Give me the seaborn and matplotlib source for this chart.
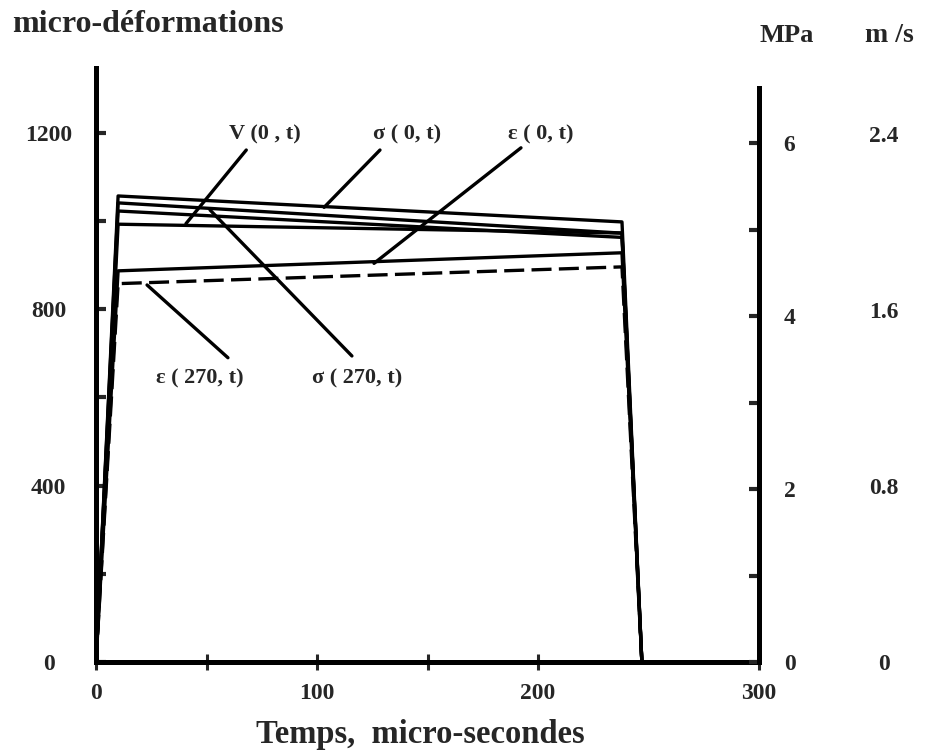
import matplotlib
matplotlib.use("Agg")
import matplotlib.pyplot as plt
import seaborn as sns

# temps (micro-secondes), common to every trace
t_us = [0, 10, 238, 247]

# déformations (micro-déformations)
eps_0 = [0, 887, 928, 0]
eps_270 = [0, 858, 896, 0]
# contraintes (MPa)
sig_0 = [0, 5.39, 5.09, 0]
sig_270 = [0, 5.31, 4.96, 0]
# vitesses (m/s) - the second one has no label in the figure
vit_0 = [0, 1.99, 1.95, 0]
vit_x = [0, 2.05, 1.93, 0]

left_ticks = [0, 400, 800, 1200]
mpa_ticks = [0, 2, 4, 6]
ms_ticks = [0, 0.8, 1.6, 2.4]
ms_labels = ["0", "0.8", "1.6", "2.4"]
x_ticks = [0, 100, 200, 300]

sns.set_style("white")
plt.rcParams["font.family"] = ["Liberation Serif", "DejaVu Serif"]
plt.rcParams["font.weight"] = "bold"

W, H = 927, 751
fig = plt.figure(figsize=(W / 100, H / 100), dpi=100)
ax = fig.add_axes([96 / W, 1 - 662 / H, (759 - 96) / W, (662 - 68) / H])
ax2 = ax.twinx()
ax3 = ax.twinx()

lw = 2.4
sns.lineplot(x=t_us, y=eps_0, ax=ax, color="black", lw=lw)
sns.lineplot(x=t_us, y=eps_270, ax=ax, color="black", lw=lw, linestyle=(0, (6, 2.2)))
sns.lineplot(x=t_us, y=sig_0, ax=ax2, color="black", lw=lw)
sns.lineplot(x=t_us, y=sig_270, ax=ax2, color="black", lw=lw)
sns.lineplot(x=t_us, y=vit_0, ax=ax3, color="black", lw=lw)
sns.lineplot(x=t_us, y=vit_x, ax=ax3, color="black", lw=lw)

ax.set_xlim(0, 300)
ax.set_ylim(0, 1347)
ax2.set_ylim(0, 6.87)
ax3.set_ylim(0, 2.70)

# spines
for s in ["top", "right"]:
    ax.spines[s].set_visible(False)
for s in ["top", "left", "bottom"]:
    ax2.spines[s].set_visible(False)
    ax3.spines[s].set_visible(False)
ax3.spines["right"].set_visible(False)
for s in ["left", "bottom"]:
    ax.spines[s].set_linewidth(3.6)
    ax.spines[s].set_color("black")
ax2.spines["right"].set_linewidth(3.6)
ax2.spines["right"].set_color("black")
ax2.spines["right"].set_bounds(0, 6.64)

tick_font = dict(fontsize=17, fontweight="bold")

# left axis
ax.set_yticks(left_ticks)
ax.set_yticks([200, 600, 1000], minor=True)
ax.set_yticklabels([str(v) for v in left_ticks], ha="center", **tick_font)
ax.tick_params(axis="y", which="both", direction="in", length=7, width=3, pad=34, left=True)

# bottom axis
ax.set_xticks(x_ticks)
ax.set_xticks([50, 150], minor=True)
ax.set_xticklabels([str(v) for v in x_ticks], **tick_font)
ax.tick_params(axis="x", which="both", direction="inout", length=12, width=2.2, pad=9, bottom=True)

# MPa axis
ax2.set_yticks(mpa_ticks)
ax2.set_yticks([1, 3, 5], minor=True)
ax2.set_yticklabels([str(v) for v in mpa_ticks], ha="center", **tick_font)
ax2.tick_params(axis="y", which="both", direction="in", length=7, width=3, pad=22, right=True)

# m/s axis (labels only)
ax3.set_yticks(ms_ticks)
ax3.set_yticklabels(ms_labels, ha="center", **tick_font)
ax3.tick_params(axis="y", length=0, pad=90)

for a in (ax, ax2, ax3):
    a.set_xlabel("")
    a.set_ylabel("")

# labels of the traces with their leader lines
leaders = [
    ("V (0 , t)", (76.5, 1196), (68, 1161), (40.7, 994)),
    ("σ ( 0, t)", (140.7, 1196), (128.5, 1161), (103.2, 1031)),
    ("ε ( 0, t)", (201.4, 1196), (192.3, 1166), (125.8, 904)),
    ("ε ( 270, t)", (47.1, 644), (59.7, 690), (23.1, 855)),
    ("σ ( 270, t)", (118.1, 644), (115.8, 694), (51.6, 1025)),
]
for txt, pos, start, end in leaders:
    ax.text(pos[0], pos[1], txt, ha="center", va="center", fontsize=16, fontweight="bold")
    ax.annotate("", xy=end, xytext=start,
                arrowprops=dict(arrowstyle="-", lw=2.4, color="black", shrinkA=0, shrinkB=0))

fig.text(12 / W, 1 - 25 / H, "micro-déformations", ha="left", va="center", fontsize=23, fontweight="bold")
fig.text(787 / W, 1 - 35 / H, "MPa", ha="center", va="center", fontsize=19, fontweight="bold")
fig.text(889 / W, 1 - 35 / H, "m /s", ha="center", va="center", fontsize=20, fontweight="bold")
fig.text(420 / W, 1 - 735 / H, "Temps,  micro-secondes", ha="center", va="center", fontsize=23.5, fontweight="bold")

fig.savefig("out.png", dpi=100)
